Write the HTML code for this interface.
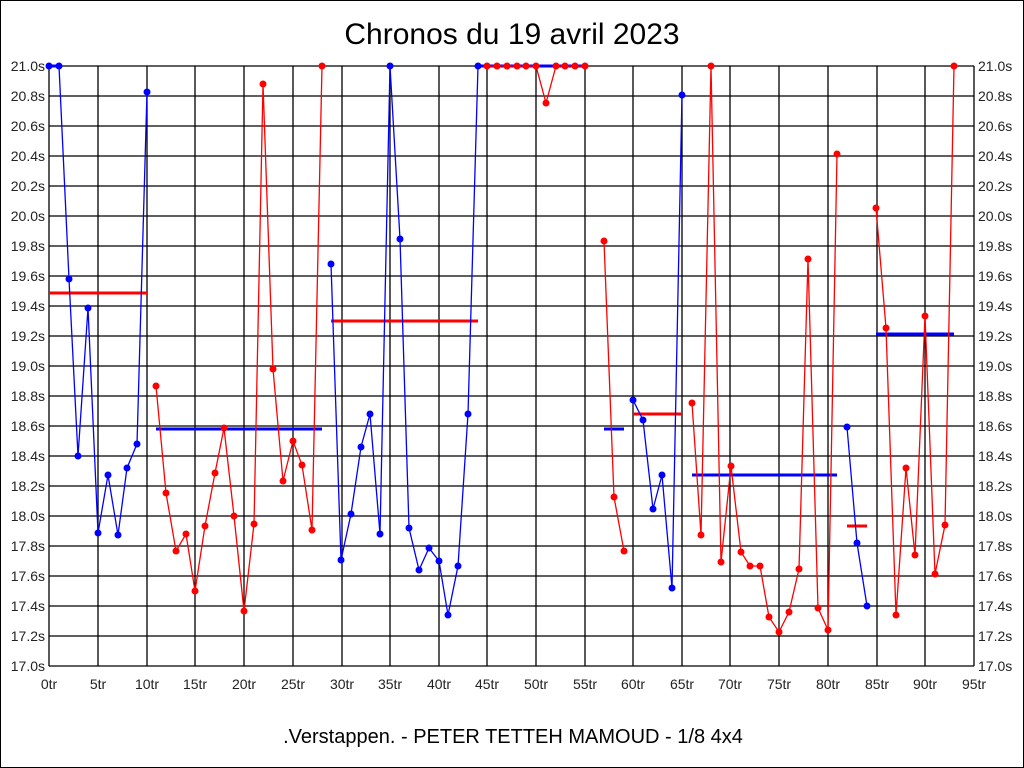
<!DOCTYPE html>
<html><head><meta charset="utf-8"><style>html,body{margin:0;padding:0;background:#fff}svg{display:block}</style></head>
<body>
<svg width="1024" height="768" xmlns="http://www.w3.org/2000/svg" font-family="Liberation Sans, Arial, sans-serif">
<rect x="0.5" y="0.5" width="1023" height="767" fill="#fff" stroke="#000"/>
<text x="512" y="44" font-size="30" text-anchor="middle">Chronos du 19 avril 2023</text>
<g stroke="#000" stroke-width="1.3">
<line x1="49" y1="66" x2="974" y2="66"/><line x1="49" y1="96" x2="974" y2="96"/><line x1="49" y1="126" x2="974" y2="126"/><line x1="49" y1="156" x2="974" y2="156"/><line x1="49" y1="186" x2="974" y2="186"/><line x1="49" y1="216" x2="974" y2="216"/><line x1="49" y1="246" x2="974" y2="246"/><line x1="49" y1="276" x2="974" y2="276"/><line x1="49" y1="306" x2="974" y2="306"/><line x1="49" y1="336" x2="974" y2="336"/><line x1="49" y1="366" x2="974" y2="366"/><line x1="49" y1="396" x2="974" y2="396"/><line x1="49" y1="426" x2="974" y2="426"/><line x1="49" y1="456" x2="974" y2="456"/><line x1="49" y1="486" x2="974" y2="486"/><line x1="49" y1="516" x2="974" y2="516"/><line x1="49" y1="546" x2="974" y2="546"/><line x1="49" y1="576" x2="974" y2="576"/><line x1="49" y1="606" x2="974" y2="606"/><line x1="49" y1="636" x2="974" y2="636"/><line x1="49" y1="666" x2="974" y2="666"/>
<line x1="49" y1="66" x2="49" y2="666"/><line x1="98" y1="66" x2="98" y2="666"/><line x1="147" y1="66" x2="147" y2="666"/><line x1="195" y1="66" x2="195" y2="666"/><line x1="244" y1="66" x2="244" y2="666"/><line x1="293" y1="66" x2="293" y2="666"/><line x1="342" y1="66" x2="342" y2="666"/><line x1="390" y1="66" x2="390" y2="666"/><line x1="439" y1="66" x2="439" y2="666"/><line x1="487" y1="66" x2="487" y2="666"/><line x1="536" y1="66" x2="536" y2="666"/><line x1="585" y1="66" x2="585" y2="666"/><line x1="633" y1="66" x2="633" y2="666"/><line x1="682" y1="66" x2="682" y2="666"/><line x1="730" y1="66" x2="730" y2="666"/><line x1="779" y1="66" x2="779" y2="666"/><line x1="828" y1="66" x2="828" y2="666"/><line x1="877" y1="66" x2="877" y2="666"/><line x1="925" y1="66" x2="925" y2="666"/><line x1="974" y1="66" x2="974" y2="666"/>
</g>
<g font-size="14" fill="#222" text-anchor="end">
<text x="45" y="71">21.0s</text><text x="45" y="101">20.8s</text><text x="45" y="131">20.6s</text><text x="45" y="161">20.4s</text><text x="45" y="191">20.2s</text><text x="45" y="221">20.0s</text><text x="45" y="251">19.8s</text><text x="45" y="281">19.6s</text><text x="45" y="311">19.4s</text><text x="45" y="341">19.2s</text><text x="45" y="371">19.0s</text><text x="45" y="401">18.8s</text><text x="45" y="431">18.6s</text><text x="45" y="461">18.4s</text><text x="45" y="491">18.2s</text><text x="45" y="521">18.0s</text><text x="45" y="551">17.8s</text><text x="45" y="581">17.6s</text><text x="45" y="611">17.4s</text><text x="45" y="641">17.2s</text><text x="45" y="671">17.0s</text>
</g>
<g font-size="14" fill="#222">
<text x="978" y="71">21.0s</text><text x="978" y="101">20.8s</text><text x="978" y="131">20.6s</text><text x="978" y="161">20.4s</text><text x="978" y="191">20.2s</text><text x="978" y="221">20.0s</text><text x="978" y="251">19.8s</text><text x="978" y="281">19.6s</text><text x="978" y="311">19.4s</text><text x="978" y="341">19.2s</text><text x="978" y="371">19.0s</text><text x="978" y="401">18.8s</text><text x="978" y="431">18.6s</text><text x="978" y="461">18.4s</text><text x="978" y="491">18.2s</text><text x="978" y="521">18.0s</text><text x="978" y="551">17.8s</text><text x="978" y="581">17.6s</text><text x="978" y="611">17.4s</text><text x="978" y="641">17.2s</text><text x="978" y="671">17.0s</text>
</g>
<g font-size="14" fill="#222" text-anchor="middle">
<text x="49" y="689">0tr</text><text x="98" y="689">5tr</text><text x="147" y="689">10tr</text><text x="195" y="689">15tr</text><text x="244" y="689">20tr</text><text x="293" y="689">25tr</text><text x="342" y="689">30tr</text><text x="390" y="689">35tr</text><text x="439" y="689">40tr</text><text x="487" y="689">45tr</text><text x="536" y="689">50tr</text><text x="585" y="689">55tr</text><text x="633" y="689">60tr</text><text x="682" y="689">65tr</text><text x="730" y="689">70tr</text><text x="779" y="689">75tr</text><text x="828" y="689">80tr</text><text x="877" y="689">85tr</text><text x="925" y="689">90tr</text><text x="974" y="689">95tr</text>
</g>
<text x="513" y="743" font-size="20" text-anchor="middle">.Verstappen. - PETER TETTEH MAMOUD - 1/8 4x4</text>

<g stroke-width="3">
<line x1="49" y1="66" x2="59" y2="66" stroke="#00f"/>
<line x1="49" y1="293" x2="147" y2="293" stroke="#f00"/>
<line x1="156" y1="429" x2="322" y2="429" stroke="#00f"/>
<line x1="331" y1="321" x2="478" y2="321" stroke="#f00"/>
<line x1="478" y1="66" x2="585" y2="66" stroke="#00f"/>
<line x1="604" y1="429" x2="624" y2="429" stroke="#00f"/>
<line x1="633" y1="414" x2="682" y2="414" stroke="#f00"/>
<line x1="692" y1="475" x2="837" y2="475" stroke="#00f"/>
<line x1="847" y1="526" x2="867" y2="526" stroke="#f00"/>
<line x1="876" y1="334" x2="954" y2="334" stroke="#00f"/>
</g>

<g fill="none" stroke-width="1.3">
<polyline stroke="#00f" points="49,66 59,66 69,279 78,456 88,308 98,533 108,475 118,535 127,468 137,444 147,92"/>
<polyline stroke="#f00" points="156,386 166,493 176,551 186,534 195,591 205,526 215,473 224,428 234,516 244,611 254,524 263,84 273,369 283,481 293,441 302,465 312,530 322,66"/>
<polyline stroke="#00f" points="331,264 341,560 351,514 361,447 370,414 380,534 390,66 400,239 409,528 419,570 429,548 439,561 448,615 458,566 468,414 478,66"/>
<polyline stroke="#f00" points="487,66 497,66 507,66 517,66 526,66 536,66 546,103 556,66 565,66 575,66 585,66"/>
<polyline stroke="#f00" points="604,241 614,497 624,551"/>
<polyline stroke="#00f" points="633,400 643,420 653,509 662,475 672,588 682,95"/>
<polyline stroke="#f00" points="692,403 701,535 711,66 721,562 731,466 741,552 750,566 760,566 769,617 779,632 789,612 799,569 808,259 818,608 828,630 837,154"/>
<polyline stroke="#00f" points="847,427 857,543 867,606"/>
<polyline stroke="#f00" points="876,208 886,328 896,615 906,468 915,555 925,316 935,574 945,525 954,66"/>
</g>

<g fill="#00f">
<circle cx="49" cy="66" r="3.5"/><circle cx="59" cy="66" r="3.5"/><circle cx="69" cy="279" r="3.5"/><circle cx="78" cy="456" r="3.5"/><circle cx="88" cy="308" r="3.5"/><circle cx="98" cy="533" r="3.5"/><circle cx="108" cy="475" r="3.5"/><circle cx="118" cy="535" r="3.5"/><circle cx="127" cy="468" r="3.5"/><circle cx="137" cy="444" r="3.5"/><circle cx="147" cy="92" r="3.5"/>
<circle cx="331" cy="264" r="3.5"/><circle cx="341" cy="560" r="3.5"/><circle cx="351" cy="514" r="3.5"/><circle cx="361" cy="447" r="3.5"/><circle cx="370" cy="414" r="3.5"/><circle cx="380" cy="534" r="3.5"/><circle cx="390" cy="66" r="3.5"/><circle cx="400" cy="239" r="3.5"/><circle cx="409" cy="528" r="3.5"/><circle cx="419" cy="570" r="3.5"/><circle cx="429" cy="548" r="3.5"/><circle cx="439" cy="561" r="3.5"/><circle cx="448" cy="615" r="3.5"/><circle cx="458" cy="566" r="3.5"/><circle cx="468" cy="414" r="3.5"/><circle cx="478" cy="66" r="3.5"/>
<circle cx="633" cy="400" r="3.5"/><circle cx="643" cy="420" r="3.5"/><circle cx="653" cy="509" r="3.5"/><circle cx="662" cy="475" r="3.5"/><circle cx="672" cy="588" r="3.5"/><circle cx="682" cy="95" r="3.5"/>
<circle cx="847" cy="427" r="3.5"/><circle cx="857" cy="543" r="3.5"/><circle cx="867" cy="606" r="3.5"/>
</g>
<g fill="#f00">
<circle cx="156" cy="386" r="3.5"/><circle cx="166" cy="493" r="3.5"/><circle cx="176" cy="551" r="3.5"/><circle cx="186" cy="534" r="3.5"/><circle cx="195" cy="591" r="3.5"/><circle cx="205" cy="526" r="3.5"/><circle cx="215" cy="473" r="3.5"/><circle cx="224" cy="428" r="3.5"/><circle cx="234" cy="516" r="3.5"/><circle cx="244" cy="611" r="3.5"/><circle cx="254" cy="524" r="3.5"/><circle cx="263" cy="84" r="3.5"/><circle cx="273" cy="369" r="3.5"/><circle cx="283" cy="481" r="3.5"/><circle cx="293" cy="441" r="3.5"/><circle cx="302" cy="465" r="3.5"/><circle cx="312" cy="530" r="3.5"/><circle cx="322" cy="66" r="3.5"/>
<circle cx="487" cy="66" r="3.5"/><circle cx="497" cy="66" r="3.5"/><circle cx="507" cy="66" r="3.5"/><circle cx="517" cy="66" r="3.5"/><circle cx="526" cy="66" r="3.5"/><circle cx="536" cy="66" r="3.5"/><circle cx="546" cy="103" r="3.5"/><circle cx="556" cy="66" r="3.5"/><circle cx="565" cy="66" r="3.5"/><circle cx="575" cy="66" r="3.5"/><circle cx="585" cy="66" r="3.5"/>
<circle cx="604" cy="241" r="3.5"/><circle cx="614" cy="497" r="3.5"/><circle cx="624" cy="551" r="3.5"/>
<circle cx="692" cy="403" r="3.5"/><circle cx="701" cy="535" r="3.5"/><circle cx="711" cy="66" r="3.5"/><circle cx="721" cy="562" r="3.5"/><circle cx="731" cy="466" r="3.5"/><circle cx="741" cy="552" r="3.5"/><circle cx="750" cy="566" r="3.5"/><circle cx="760" cy="566" r="3.5"/><circle cx="769" cy="617" r="3.5"/><circle cx="779" cy="632" r="3.5"/><circle cx="789" cy="612" r="3.5"/><circle cx="799" cy="569" r="3.5"/><circle cx="808" cy="259" r="3.5"/><circle cx="818" cy="608" r="3.5"/><circle cx="828" cy="630" r="3.5"/><circle cx="837" cy="154" r="3.5"/>
<circle cx="876" cy="208" r="3.5"/><circle cx="886" cy="328" r="3.5"/><circle cx="896" cy="615" r="3.5"/><circle cx="906" cy="468" r="3.5"/><circle cx="915" cy="555" r="3.5"/><circle cx="925" cy="316" r="3.5"/><circle cx="935" cy="574" r="3.5"/><circle cx="945" cy="525" r="3.5"/><circle cx="954" cy="66" r="3.5"/>
</g>
</svg>
</body></html>
